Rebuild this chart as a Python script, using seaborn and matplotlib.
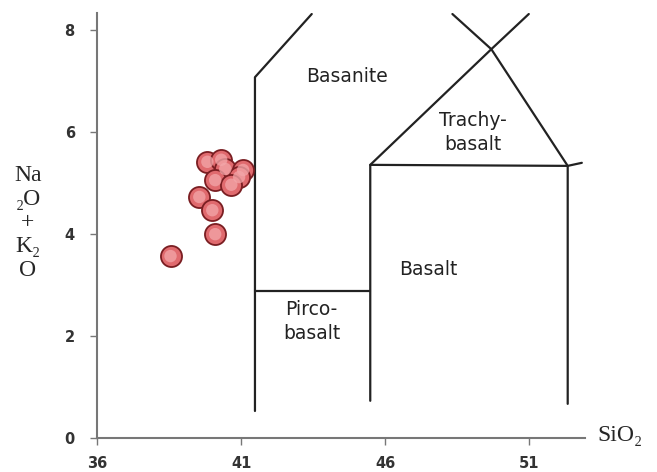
import matplotlib
matplotlib.use("Agg")
import matplotlib.pyplot as plt
import seaborn as sns
import pandas as pd

# ---- data ----
sio2 = [39.83, 40.31, 40.45, 41.07, 40.93, 40.10, 40.66, 39.55, 40.00, 40.10, 38.55]
alk = [5.42, 5.46, 5.28, 5.26, 5.12, 5.06, 4.97, 4.73, 4.47, 4.00, 3.57]

# field boundary polylines (SiO2, Na2O+K2O)
basanite_x = [41.48, 41.48, 43.45]
basanite_y = [0.53, 7.08, 8.32]
picro_x = [41.48, 45.48]
picro_y = [2.89, 2.89]
basalt_x = [45.48, 45.48, 52.33, 52.33]
basalt_y = [0.73, 5.36, 5.34, 0.67]
trachy_l_x = [45.48, 49.68, 50.98]
trachy_l_y = [5.36, 7.63, 8.32]
trachy_r_x = [48.33, 49.68, 52.33, 52.82]
trachy_r_y = [8.32, 7.63, 5.34, 5.40]

x_ticks = [36, 41, 46, 51]
y_ticks = [0, 2, 4, 6, 8]

field_labels = ["Basanite", "Trachy-\nbasalt", "Basalt", "Pirco-\nbasalt"]
field_lx = [44.66, 49.03, 47.48, 43.45]
field_ly = [7.10, 6.00, 3.30, 2.28]

sns.set_style("white")

fig = plt.figure(figsize=(6.57, 4.72), dpi=100)
ax = fig.add_axes([97 / 657, 34 / 472, 488 / 657, 425 / 472])

line_col = "#222222"
for xs, ys in [(basanite_x, basanite_y), (picro_x, picro_y), (basalt_x, basalt_y),
               (trachy_l_x, trachy_l_y), (trachy_r_x, trachy_r_y)]:
    sns.lineplot(x=xs, y=ys, sort=False, estimator=None, color=line_col,
                 linewidth=1.6, ax=ax)

df = pd.DataFrame({"SiO2": sio2, "alk": alk})
sns.scatterplot(data=df, x="SiO2", y="alk", s=230, color="#e06a6e",
                edgecolor="#7a1e22", linewidth=1.3, ax=ax, zorder=3)
sns.scatterplot(data=df, x="SiO2", y="alk", s=80, color="#f3a7aa",
                edgecolor="none", linewidth=0, ax=ax, zorder=4, alpha=0.75)

for t, lx, ly in zip(field_labels, field_lx, field_ly):
    ax.text(lx, ly, t, ha="center", va="center", fontsize=13.5,
            family="DejaVu Sans", color="#222222", linespacing=1.35)

ax.set_xlim(36.07, 52.93)
ax.set_ylim(0, 8.34)
ax.set_xticks(x_ticks)
ax.set_yticks(y_ticks)
ax.set_xticklabels([str(v) for v in x_ticks], fontsize=10.5, fontweight="bold", color="#333333")
ax.set_yticklabels([str(v) for v in y_ticks], fontsize=10.5, fontweight="bold", color="#333333")
ax.tick_params(axis="both", which="both", direction="out", length=5, width=1,
               color="#777777", bottom=True, left=True)
ax.tick_params(axis="x", pad=8)
ax.tick_params(axis="y", pad=11)

for side in ["top", "right"]:
    ax.spines[side].set_visible(False)
for side in ["left", "bottom"]:
    ax.spines[side].set_color("#777777")
    ax.spines[side].set_linewidth(1.5)

ax.set_xlabel("")
ax.set_ylabel("")

serif = ["Liberation Serif", "DejaVu Serif"]
fig.text(28 / 657, 1 - 223 / 472, "Na\n\u2082O\n+\nK\u2082\nO", ha="center", va="center",
         fontsize=17, family=serif, linespacing=1.17)
fig.text(597 / 657, 1 - 436 / 472, "SiO\u2082", ha="left", va="center",
         fontsize=17, family=serif)

fig.savefig("out.png", dpi=100)
